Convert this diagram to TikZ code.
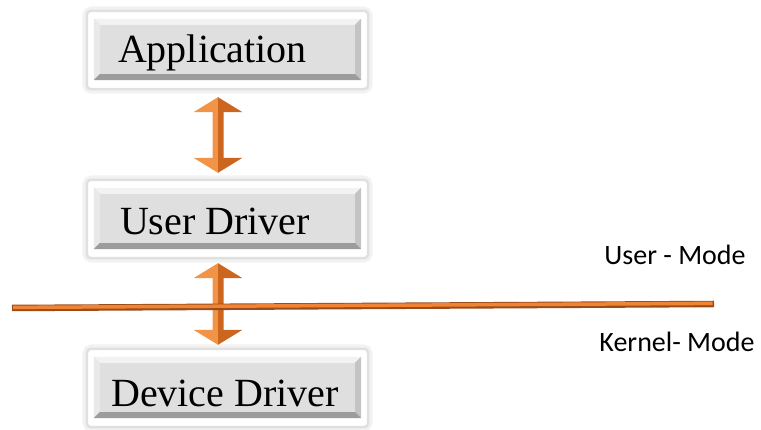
\documentclass[tikz,border=0pt]{standalone}
\usepackage{fontspec}
\setmainfont{Liberation Serif}
\newfontfamily\modefont{Carlito}
\usetikzlibrary{calc,backgrounds}
\definecolor{arrlight}{HTML}{F29447}
\definecolor{arrdark}{HTML}{CC661E}
\definecolor{linecore}{HTML}{EF8434}
\definecolor{lineedge}{HTML}{9C4C1A}
\definecolor{btnfill}{HTML}{DFDFDF}
\tikzset{
  btn/.style={rectangle, fill=btnfill, minimum width=267pt, minimum height=61pt, inner sep=0pt},
  btntext/.style={font=\fontsize{40}{44}\selectfont, anchor=base, inner sep=0pt},
  modetext/.style={font=\modefont\fontsize{28}{32}\selectfont, anchor=base, inner sep=0pt},
}
% bevelled edges and white frame of a button
\newcommand\bevel[1]{%
  \fill[white!60!btnfill] (#1.north west) -- (#1.north east) -- ++(-6,-6) -- ($(#1.north west)+(6,-6)$) -- cycle;
  \fill[white!30!btnfill] (#1.north west) -- ($(#1.north west)+(6,-6)$) -- ($(#1.south west)+(6,6)$) -- (#1.south west) -- cycle;
  \fill[black!12!btnfill] (#1.north east) -- ($(#1.north east)+(-6,-6)$) -- ($(#1.south east)+(-6,6)$) -- (#1.south east) -- cycle;
  \fill[black!30!btnfill] (#1.south west) -- ($(#1.south west)+(6,6)$) -- ($(#1.south east)+(-6,6)$) -- (#1.south east) -- cycle;
  \begin{scope}[on background layer]
    \draw[black!5, line width=9pt, rounded corners=5pt] ($(#1.north west)+(-7,8)$) rectangle ($(#1.south east)+(7,-9)$);
    \filldraw[fill=white, draw=black!12, line width=2.5pt, rounded corners=4pt] ($(#1.north west)+(-7,8)$) rectangle ($(#1.south east)+(7,-9)$);
  \end{scope}}
% double block arrow between two points
\newcommand\updown[2]{%
  \fill[arrlight] (#1) -- ++(-24.5,-15) -- ++(19,0) -- ($(#2)+(-5.5,15)$) -- ++(-19,0) -- (#2) -- cycle;
  \fill[arrdark] (#1) -- ++(24.5,-15) -- ++(-19,0) -- ($(#2)+(5.5,15)$) -- ++(19,0) -- (#2) -- cycle;}
\begin{document}
\begin{tikzpicture}[x=1pt,y=1pt]
\useasboundingbox (0,0) rectangle (761,430);
% buttons
\node[btn] (app) at (227.5,380.5) {};
\node[btn] (usr) at (227.5,211.5) {};
\node[btn] (dev) at (227.5,42.5) {};
\bevel{app}
\bevel{usr}
\bevel{dev}
\node[btntext] (apptxt) at ($(app.center)+(-15,-13.5)$) {Application};
\node[btntext] (usrtxt) at ($(usr.center)+(-12.5,-16.5)$) {User Driver};
\node[btntext] (devtxt) at ($(dev.center)+(-2.5,-19.5)$) {Device Driver};
% arrows
\coordinate (a1top) at ($(app.south)+(-9.5,-17)$);
\coordinate (a1bot) at ($(usr.north)+(-9.5,15)$);
\coordinate (a2top) at ($(usr.south)+(-9.5,-14)$);
\coordinate (a2bot) at ($(dev.north)+(-9.5,12)$);
\updown{a1top}{a1bot}
\updown{a2top}{a2bot}
% mode border
\coordinate (kl) at (12,122);
\coordinate (kr) at (714,126);
\draw[lineedge, line width=6.5pt] (kl) -- (kr);
\draw[linecore, line width=3.5pt] ($(kl)+(1,0.6)$) -- ($(kr)+(-1.5,0.6)$);
\node[modetext] (umode) at (675,165) {User - Mode};
\node[modetext] (kmode) at (677,78) {Kernel- Mode};
\end{tikzpicture}
\end{document}
